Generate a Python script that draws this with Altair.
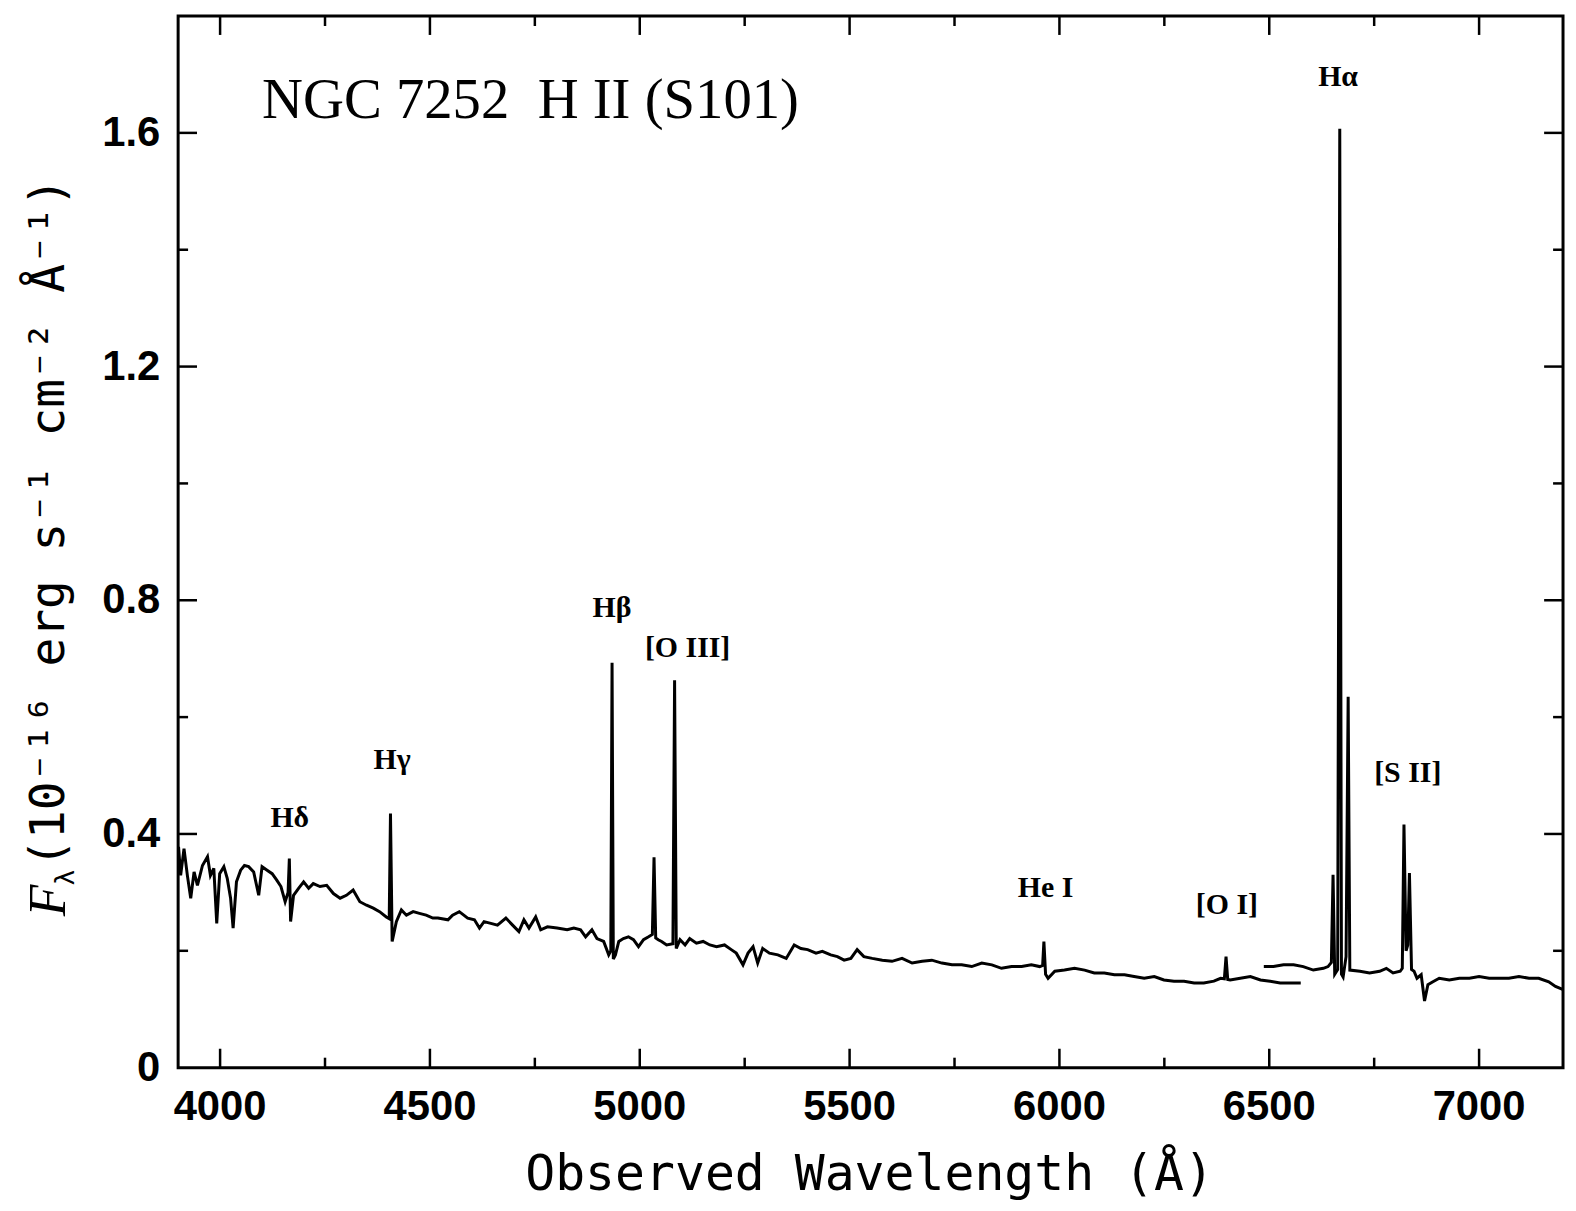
import altair as alt
import pandas as pd

# ---- spectrum (wavelength in Angstrom, flux in 1e-16 erg/s/cm2/A)
blue_wave = [3901, 3906, 3914, 3922, 3930, 3938, 3946, 3958, 3970, 3977, 3985, 3992, 3999,
             4009, 4017, 4025, 4031, 4039, 4049, 4058, 4068, 4080, 4092, 4100, 4112, 4124,
             4135, 4145, 4155, 4162, 4165, 4168, 4175, 4187, 4199, 4211, 4222, 4238, 4254,
             4270, 4286, 4301, 4317, 4333, 4349, 4365, 4380, 4396, 4403, 4406, 4410, 4420,
             4432, 4444, 4460, 4475, 4491, 4507, 4519, 4543, 4554, 4570, 4590, 4606, 4618,
             4629, 4645, 4661, 4681, 4697, 4712, 4724, 4736, 4752, 4764, 4780, 4803, 4827,
             4843, 4859, 4871, 4886, 4898, 4914, 4926, 4931, 4934, 4937, 4942, 4950, 4961,
             4973, 4985, 4997, 5009, 5021, 5030, 5034, 5038, 5044, 5052, 5064, 5079, 5083,
             5087, 5096, 5108, 5119, 5135, 5151, 5167, 5183, 5202, 5218, 5230, 5246, 5258,
             5270, 5281, 5293, 5309, 5329, 5349, 5368, 5384, 5400, 5420, 5435, 5455, 5471,
             5487, 5503, 5518, 5534, 5554, 5578, 5601, 5625, 5649, 5673, 5696, 5720, 5744,
             5767, 5791, 5815, 5839, 5862, 5886, 5910, 5933, 5953, 5960, 5963, 5967, 5973,
             5989, 6012, 6036, 6060, 6083, 6107, 6131, 6155, 6178, 6202, 6226, 6249, 6273,
             6297, 6321, 6344, 6368, 6384, 6393, 6397, 6401, 6407, 6431, 6455, 6479, 6502,
             6526, 6550, 6575]
blue_flux = [0.378, 0.329, 0.375, 0.329, 0.290, 0.335, 0.312, 0.346, 0.361, 0.329, 0.341, 0.247, 0.332,
             0.344, 0.324, 0.290, 0.239, 0.318, 0.338, 0.346, 0.344, 0.335, 0.295, 0.344, 0.338, 0.332,
             0.321, 0.310, 0.284, 0.300, 0.358, 0.250, 0.295, 0.307, 0.318, 0.307, 0.315, 0.310, 0.312,
             0.298, 0.290, 0.295, 0.304, 0.284, 0.278, 0.273, 0.267, 0.258, 0.255, 0.435, 0.216, 0.250,
             0.270, 0.261, 0.267, 0.264, 0.261, 0.256, 0.256, 0.253, 0.261, 0.267, 0.256, 0.253, 0.239,
             0.250, 0.247, 0.244, 0.256, 0.244, 0.233, 0.253, 0.239, 0.258, 0.236, 0.241, 0.239, 0.236,
             0.239, 0.236, 0.224, 0.236, 0.221, 0.216, 0.193, 0.200, 0.693, 0.186, 0.193, 0.216, 0.221,
             0.224, 0.219, 0.207, 0.219, 0.224, 0.228, 0.360, 0.222, 0.219, 0.216, 0.210, 0.212, 0.663,
             0.204, 0.219, 0.210, 0.221, 0.213, 0.216, 0.210, 0.207, 0.210, 0.202, 0.196, 0.176, 0.196,
             0.207, 0.179, 0.204, 0.196, 0.193, 0.187, 0.210, 0.204, 0.202, 0.196, 0.199, 0.193, 0.190,
             0.184, 0.187, 0.202, 0.190, 0.187, 0.184, 0.182, 0.187, 0.179, 0.182, 0.184, 0.179, 0.176,
             0.176, 0.173, 0.179, 0.176, 0.170, 0.173, 0.173, 0.176, 0.173, 0.175, 0.216, 0.160, 0.153,
             0.165, 0.167, 0.170, 0.167, 0.162, 0.162, 0.159, 0.159, 0.156, 0.153, 0.156, 0.150, 0.148,
             0.148, 0.145, 0.145, 0.148, 0.153, 0.152, 0.190, 0.151, 0.150, 0.153, 0.156, 0.150, 0.148,
             0.145, 0.145, 0.145]

red_wave = [6487, 6510, 6534, 6558, 6581, 6605, 6629, 6640, 6648, 6652, 6656, 6663, 6668, 6672,
            6676, 6683, 6688, 6692, 6716, 6739, 6763, 6779, 6795, 6812, 6817, 6821, 6826, 6830,
            6834, 6839, 6845, 6852, 6862, 6870, 6878, 6890, 6905, 6929, 6953, 6977, 7000, 7024,
            7048, 7071, 7095, 7119, 7142, 7166, 7182, 7199]
red_flux = [0.173, 0.173, 0.176, 0.176, 0.173, 0.167, 0.170, 0.173, 0.180, 0.330, 0.160, 0.168, 1.607, 0.160,
            0.155, 0.190, 0.635, 0.167, 0.165, 0.162, 0.165, 0.170, 0.162, 0.165, 0.170, 0.416, 0.200, 0.210,
            0.333, 0.168, 0.165, 0.153, 0.159, 0.114, 0.142, 0.147, 0.153, 0.150, 0.153, 0.153, 0.156, 0.153,
            0.153, 0.153, 0.156, 0.153, 0.153, 0.147, 0.139, 0.134]

# ---- line identifications
label_text = ["H\u03b4", "H\u03b3", "H\u03b2", "[O III]", "He I", "[O I]", "H\u03b1", "[S II]"]
label_wave = [4166, 4410, 4934, 5114, 5967, 6399, 6664, 6830]
label_flux = [0.428, 0.526, 0.787, 0.719, 0.308, 0.279, 1.695, 0.504]

# ---- axis ticks
x_major = [4000, 4500, 5000, 5500, 6000, 6500, 7000]
x_minor = [4250, 4750, 5250, 5750, 6250, 6750]
y_labels = [0, 0.4, 0.8, 1.2, 1.6]
y_major = [0.4, 0.8, 1.2, 1.6]
y_minor = [0.2, 0.6, 1.0, 1.4]

W, H = 1392, 1057
MAJ, MIN = 19, 10

xs = alt.Scale(domain=[3900, 7200], nice=False, zero=False)
ys = alt.Scale(domain=[0, 1.8], nice=False, zero=False)

spec = pd.concat([
    pd.DataFrame({"wave": blue_wave, "flux": blue_flux, "seg": "blue"}),
    pd.DataFrame({"wave": red_wave, "flux": red_flux, "seg": "red"}),
])

tick_font = "Liberation Sans"

line = alt.Chart(spec).mark_line(color="black", strokeWidth=3, clip=True).encode(
    x=alt.X("wave:Q", scale=xs, axis=None),
    y=alt.Y("flux:Q", scale=ys, axis=None),
    detail="seg:N",
)

def hrules(vals, y0, y1):
    return alt.Chart(pd.DataFrame({"v": vals})).mark_rule(color="black", strokeWidth=2.5).encode(
        x=alt.X("v:Q", scale=xs, axis=None), y=alt.value(y0), y2=alt.value(y1))

def vrules(vals, x0, x1):
    return alt.Chart(pd.DataFrame({"v": vals})).mark_rule(color="black", strokeWidth=2.5).encode(
        y=alt.Y("v:Q", scale=ys, axis=None), x=alt.value(x0), x2=alt.value(x1))

ticks = [
    hrules(x_major, H, H - MAJ), hrules(x_minor, H, H - MIN),
    hrules(x_major, 0, MAJ), hrules(x_minor, 0, MIN),
    vrules(y_major, 0, MAJ), vrules(y_minor, 0, MIN),
    vrules(y_major, W, W - MAJ), vrules(y_minor, W, W - MIN),
]

# tick labels
xlab = alt.Chart(pd.DataFrame({"v": x_major})).mark_text(
    font=tick_font, fontSize=42, fontWeight="bold", color="black", align="center", baseline="top").encode(
    x=alt.X("v:Q", scale=xs, axis=None), y=alt.value(H + 20), text=alt.Text("v:Q", format="d"))
ylab = alt.Chart(pd.DataFrame({"v": y_labels})).mark_text(
    font=tick_font, fontSize=42, fontWeight="bold", color="black", align="right", baseline="middle").encode(
    y=alt.Y("v:Q", scale=ys, axis=None), x=alt.value(-18), text=alt.Text("v:Q", format=".1~f"))

xtitle = alt.Chart(pd.DataFrame({"t": ["Observed Wavelength (\u00c5)"]})).mark_text(
    font="DejaVu Sans Mono", fontSize=50, color="black", align="center", baseline="alphabetic").encode(
    x=alt.value(695), y=alt.value(1180), text="t:N")

labels = alt.Chart(pd.DataFrame({"t": label_text, "w": label_wave, "f": label_flux})).mark_text(
    font="Liberation Serif", fontSize=30, fontWeight="bold", color="black",
    align="center", baseline="middle").encode(
    x=alt.X("w:Q", scale=xs, axis=None), y=alt.Y("f:Q", scale=ys, axis=None), text="t:N")

title_df = pd.DataFrame({"t": ["NGC 7252\u00a0 H II (S101)"], "w": [4100], "f": [1.625]})
title = alt.Chart(title_df).mark_text(
    font="Liberation Serif", fontSize=57, color="black", align="left", baseline="alphabetic").encode(
    x=alt.X("w:Q", scale=xs, axis=None), y=alt.Y("f:Q", scale=ys, axis=None), text="t:N")

# y-axis title built from pieces (italic F, subscript lambda, rest)
yt_F = alt.Chart(pd.DataFrame({"t": ["F"]})).mark_text(
    font="Liberation Serif", fontStyle="italic", fontSize=52, color="black", angle=270,
    align="center", baseline="middle").encode(x=alt.value(-130), y=alt.value(889), text="t:N")
yt_l = alt.Chart(pd.DataFrame({"t": ["\u03bb"]})).mark_text(
    font="DejaVu Sans", fontSize=26, color="black", angle=270,
    align="center", baseline="middle").encode(x=alt.value(-113), y=alt.value(866), text="t:N")
yt_rest = alt.Chart(pd.DataFrame({"t": ["(10\u207b\u00b9\u2076 erg s\u207b\u00b9 cm\u207b\u00b2 \u00c5\u207b\u00b9)"]})).mark_text(
    font="DejaVu Sans Mono", fontSize=48, color="black", angle=270,
    align="left", baseline="middle").encode(x=alt.value(-129), y=alt.value(856), text="t:N")

chart = alt.layer(line, *ticks, xlab, ylab, xtitle, labels, title, yt_F, yt_l, yt_rest).properties(
    width=W, height=H,
    autosize=alt.AutoSizeParams(type="none"),
    padding={"left": 171, "top": 5, "right": 5, "bottom": 140},
    background="white",
).configure_view(stroke="black", strokeWidth=3)

chart.save("out.html", embed_options={"renderer": "svg", "actions": False})
